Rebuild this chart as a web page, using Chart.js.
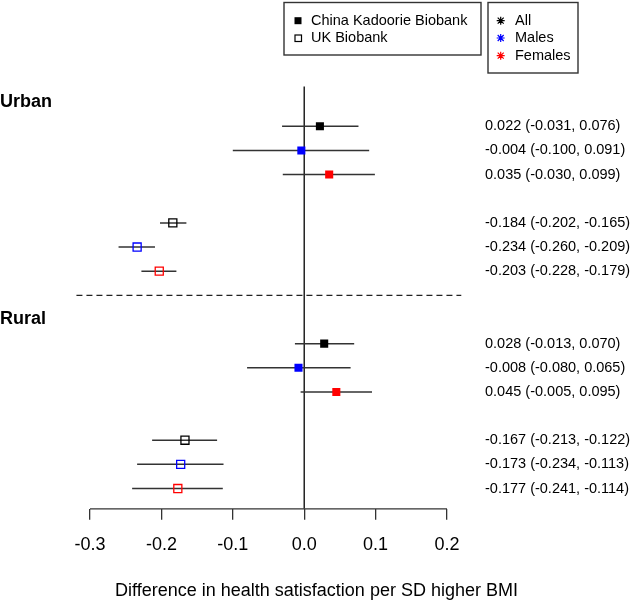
<!DOCTYPE html>
<html>
<head>
<meta charset="utf-8">
<script src="https://cdn.jsdelivr.net/npm/chart.js@4/dist/chart.umd.min.js"></script>
<style>
    html, body { margin: 0; padding: 0; background: #fff; }
    #wrap { width: 633px; height: 601px; }
</style>
</head>
<body>
<div id="wrap"><canvas id="forest" width="633" height="601"></canvas></div>
<script>
const sections = ["Urban", "Rural"];
const studies = ["China Kadoorie Biobank", "UK Biobank"];
const groups = ["All", "Males", "Females"];
const xTicks = [-0.3, -0.2, -0.1, 0.0, 0.1, 0.2];
const xTitle = "Difference in health satisfaction per SD higher BMI";

// order: CKB All, Males, Females, UKB All, Males, Females
const urbanEst = [0.022, -0.004, 0.035, -0.184, -0.234, -0.203];
const urbanLo  = [-0.031, -0.100, -0.030, -0.202, -0.260, -0.228];
const urbanHi  = [0.076, 0.091, 0.099, -0.165, -0.209, -0.179];

const ruralEst = [0.028, -0.008, 0.045, -0.167, -0.173, -0.177];
const ruralLo  = [-0.013, -0.080, -0.005, -0.213, -0.234, -0.241];
const ruralHi  = [0.070, 0.065, 0.095, -0.122, -0.113, -0.114];

const groupColors = ["#000000", "#0000ff", "#ff0000"];
const FONT = "'Liberation Sans', Arial, Helvetica, sans-serif";

const est = [urbanEst, ruralEst];
const lo = [urbanLo, ruralLo];
const hi = [urbanHi, ruralHi];

// row index on the (reversed) y scale
function rowOf(s, k, g) { return s * 9 + 1 + k * 4 + g; }
const Y_MIN = -4.23, Y_MAX = 16.84;

const datasets = [];

/* ---- markers ---- */
studies.forEach((study, k) => {
    groups.forEach((grp, g) => {
        datasets.push({
            label: study + " " + grp,
            data: sections.map((sec, s) => ({ x: est[s][k * 3 + g], y: rowOf(s, k, g) })),
            pointStyle: "rect",
            pointRadius: 5.7,
            backgroundColor: k === 0 ? groupColors[g] : "rgba(0,0,0,0)",
            borderColor: groupColors[g],
            borderWidth: k === 0 ? 0 : 1.3,
            showLine: false,
            order: 0
        });
    });
});

/* ---- CI bars ---- */
sections.forEach((sec, s) => {
    for (let i = 0; i < 6; i++) {
        const k = Math.floor(i / 3), g = i % 3;
        datasets.push({
            label: "ci",
            data: [{ x: lo[s][i], y: rowOf(s, k, g) }, { x: hi[s][i], y: rowOf(s, k, g) }],
            showLine: true,
            pointRadius: 0,
            borderColor: "#333333",
            borderWidth: 1.5,
            order: 1
        });
    }
});

/* ---- reference line at zero and separator ---- */
datasets.push({
    label: "zero",
    data: [{ x: 0, y: -0.65 }, { x: 0, y: Y_MAX }],
    showLine: true, pointRadius: 0,
    borderColor: "#000", borderWidth: 1.3, clip: false, order: 2
});
datasets.push({
    label: "sep",
    data: [{ x: -0.319, y: 8 }, { x: 0.22, y: 8 }],
    showLine: true, pointRadius: 0,
    borderColor: "#222", borderWidth: 1.2, borderDash: [6, 4], order: 2
});

const fmt = v => v.toFixed(3);

const extras = {
    id: "extras",
    afterDraw(chart) {
        const ctx = chart.ctx;
        const xs = chart.scales.x, ys = chart.scales.y;
        ctx.save();

        // axis segment
        ctx.strokeStyle = "#333";
        ctx.lineWidth = 1.3;
        ctx.beginPath();
        ctx.moveTo(xs.getPixelForValue(xTicks[0]), chart.chartArea.bottom);
        ctx.lineTo(xs.getPixelForValue(xTicks[xTicks.length - 1]), chart.chartArea.bottom);
        ctx.stroke();

        // section labels
        ctx.fillStyle = "#000";
        ctx.textBaseline = "middle";
        ctx.textAlign = "left";
        ctx.font = "bold 18px " + FONT;
        sections.forEach((sec, s) => ctx.fillText(sec, 0, ys.getPixelForValue(s * 9)));

        // estimates text
        ctx.font = "14.5px " + FONT;
        sections.forEach((sec, s) => {
            for (let i = 0; i < 6; i++) {
                const k = Math.floor(i / 3), g = i % 3;
                const txt = fmt(est[s][i]) + " (" + fmt(lo[s][i]) + ", " + fmt(hi[s][i]) + ")";
                ctx.fillText(txt, 485, ys.getPixelForValue(rowOf(s, k, g)));
            }
        });

        // legend: studies
        ctx.strokeStyle = "#333";
        ctx.lineWidth = 1.4;
        ctx.strokeRect(284, 2.5, 197, 52.5);
        ctx.strokeRect(488, 2.5, 90, 70.5);

        const ly = [20.7, 38, 55.7];
        studies.forEach((st, k) => {
            if (k === 0) {
                ctx.fillStyle = "#000";
                ctx.fillRect(294.5, ly[k] - 3.5, 7, 7);
            } else {
                ctx.strokeStyle = "#000";
                ctx.lineWidth = 1.2;
                ctx.strokeRect(295, ly[k] - 3, 6.5, 6.5);
            }
            ctx.fillStyle = "#000";
            ctx.fillText(st, 311, ly[k]);
        });

        // legend: groups (asterisk)
        groups.forEach((grp, g) => {
            const cx = 500.7, cy = ly[g], r = 4;
            ctx.strokeStyle = groupColors[g];
            ctx.lineWidth = 1.2;
            ctx.beginPath();
            ctx.moveTo(cx - r, cy); ctx.lineTo(cx + r, cy);
            ctx.moveTo(cx, cy - r); ctx.lineTo(cx, cy + r);
            ctx.moveTo(cx - r * 0.75, cy - r * 0.75); ctx.lineTo(cx + r * 0.75, cy + r * 0.75);
            ctx.moveTo(cx - r * 0.75, cy + r * 0.75); ctx.lineTo(cx + r * 0.75, cy - r * 0.75);
            ctx.stroke();
            ctx.fillStyle = "#000";
            ctx.fillText(grp, 515, cy);
        });

        ctx.restore();
    }
};

new Chart(document.getElementById("forest"), {
    type: "scatter",
    data: { datasets },
    options: {
        responsive: false,
        animation: false,
        devicePixelRatio: 1,
        layout: { padding: 0, autoPadding: false },
        plugins: { legend: { display: false }, tooltip: { enabled: false } },
        scales: {
            x: {
                type: "linear",
                min: -0.42605,
                max: 0.4605,
                afterBuildTicks: scale => { scale.ticks = xTicks.map(v => ({ value: v })); },
                border: { display: false },
                grid: { drawOnChartArea: false, drawTicks: true, tickLength: 11, color: "#333", lineWidth: 1.3 },
                ticks: {
                    autoSkip: false, maxRotation: 0, padding: 14,
                    color: "#000", font: { family: FONT, size: 18 },
                    callback: v => Number(v).toFixed(1)
                },
                title: {
                    display: true, text: xTitle, color: "#000",
                    font: { family: FONT, size: 18 },
                    padding: { top: 11, bottom: -1 }
                }
            },
            y: { type: "linear", reverse: true, min: Y_MIN, max: Y_MAX, display: false }
        }
    },
    plugins: [extras]
});
</script>
</body>
</html>
